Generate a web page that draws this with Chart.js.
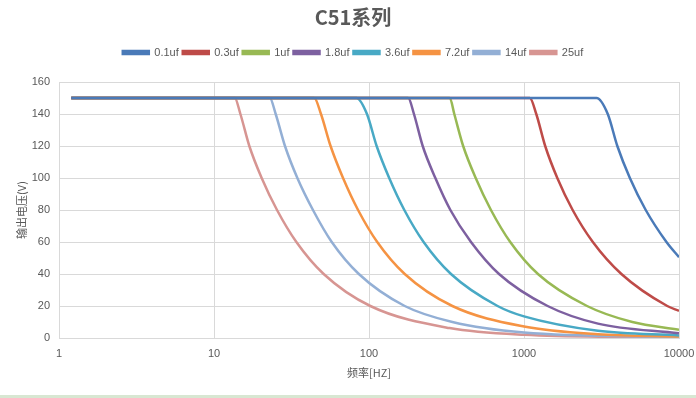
<!DOCTYPE html>
<html>
<head>
<meta charset="utf-8">
<script src="https://cdn.jsdelivr.net/npm/chart.js@4/dist/chart.umd.min.js"></script>
<style>
  html, body { margin: 0; padding: 0; background: #fff; }
  #wrap { width: 696px; height: 395px; border-bottom: 3px solid #d8e7d2; }
</style>
</head>
<body>
<div id="wrap"><canvas id="chart1" width="696" height="395"></canvas></div>
<script>
// 曲线名称 (电容)
const seriesNames = ['0.1uf', '0.3uf', '1uf', '1.8uf', '3.6uf', '7.2uf', '14uf', '25uf'];
const seriesColors = ['#4a7ab8', '#be4b48', '#98b954', '#7d60a0', '#48a9c5', '#f59343', '#93afd5', '#d79592'];

// 频率 (Hz) / 输出电压 (V)
const freq01 = [1.2, 2940, 3470, 4000, 4820, 6100, 8300, 10000];
const volt01 = [150, 150, 140, 120, 100, 80, 60, 50.5];

const freq03 = [1.2, 1090, 1200, 1370, 1640, 2060, 2780, 4250, 8400, 10000];
const volt03 = [150, 150, 140, 120, 100, 80, 60, 40, 20, 17];

const freq1 = [1.2, 332, 355, 405, 488, 612, 815, 1230, 2550, 5000, 10000];
const volt1 = [150, 150, 140, 120, 100, 80, 60, 40, 20, 10, 5.2];

const freq18 = [1.2, 179, 195, 222, 268, 335, 455, 690, 1420, 3000, 10000];
const volt18 = [150, 150, 140, 120, 100, 80, 60, 40, 20, 9, 2.9];

const freq36 = [1.2, 83, 97, 112, 135, 169, 225, 338, 675, 1000, 3000, 10000];
const volt36 = [150, 150, 140, 120, 100, 80, 60, 40, 20, 13.5, 4.5, 1.6];

const freq72 = [1.2, 44.3, 49, 56.5, 68, 85, 113, 170, 345, 1000, 3000, 10000];
const volt72 = [150, 150, 140, 120, 100, 80, 60, 40, 20, 7.2, 2.4, 1];

const freq14 = [1.2, 22.9, 25, 28.7, 34.5, 43.5, 57.5, 86, 170, 345, 1000, 10000];
const volt14 = [150, 150, 140, 120, 100, 80, 60, 40, 20, 10, 3.4, 0.5];

const freq25 = [1.2, 13.6, 14.8, 16.9, 20.3, 25.5, 34, 51, 102, 331, 1000, 10000];
const volt25 = [150, 150, 140, 120, 100, 80, 60, 40, 20, 6.2, 2, 0.3];

const allFreq = [freq01, freq03, freq1, freq18, freq36, freq72, freq14, freq25];
const allVolt = [volt01, volt03, volt1, volt18, volt36, volt72, volt14, volt25];

// 坐标轴刻度
const xTicks = [1, 10, 100, 1000, 10000];
const yMin = 0, yMax = 160, yStep = 20;

const grey = '#595959';
const gridColor = '#d9d9d9';
const fontFam = "'Liberation Sans', 'Noto Sans CJK SC', sans-serif";

const datasets = seriesNames.map((name, i) => ({
    label: name,
    data: allFreq[i].map((f, j) => ({ x: f, y: allVolt[i][j] })),
    borderColor: seriesColors[i],
    backgroundColor: seriesColors[i],
    borderWidth: 2.5,
    pointRadius: 0,
    showLine: true,
    cubicInterpolationMode: 'monotone'
}));

// 图例下方留白, 标题和图例稍微右移
const legendGap = {
    id: 'legendGap',
    beforeInit(chart) {
        const origFit = chart.legend.fit;
        chart.legend.fit = function () {
            origFit.bind(chart.legend)();
            this.height += 14;
        };
    },
    afterLayout(chart) {
        [chart.titleBlock, chart.legend].forEach(b => {
            if (b) { b.left += 5; b.right += 5; }
        });
    }
};

new Chart(document.getElementById('chart1'), {
    type: 'scatter',
    data: { datasets: datasets },
    plugins: [legendGap],
    options: {
        responsive: false,
        animation: false,
        layout: { padding: 0 },
        plugins: {
            tooltip: { enabled: false },
            title: {
                display: true,
                text: 'C51系列',
                color: grey,
                font: { size: 20, weight: 'bold', family: "'Noto Sans CJK SC', sans-serif" },
                padding: { top: 5, bottom: 14 }
            },
            legend: {
                position: 'top',
                labels: {
                    color: grey,
                    boxWidth: 26,
                    boxHeight: 3,
                    padding: 4,
                    font: { size: 11, family: fontFam }
                }
            }
        },
        scales: {
            x: {
                type: 'logarithmic',
                min: 1,
                max: 10000,
                afterBuildTicks: (axis) => { axis.ticks = xTicks.map(v => ({ value: v })); },
                afterFit: (axis) => {
                    axis.height = 57;
                    axis.paddingLeft = 0;
                    axis.paddingRight = 17;
                },
                grid: { color: gridColor, drawTicks: false },
                border: { color: gridColor },
                ticks: {
                    color: grey,
                    padding: 9,
                    maxRotation: 0,
                    font: { size: 11, family: fontFam },
                    callback: (v) => String(v)
                },
                title: {
                    display: true,
                    text: '频率[HZ]',
                    color: grey,
                    font: { size: 11, family: "'Noto Sans CJK SC', sans-serif" },
                    padding: { top: 0, bottom: 16 }
                }
            },
            y: {
                min: yMin,
                max: yMax,
                afterFit: (axis) => { axis.width = 59; },
                grid: { color: gridColor, drawTicks: false },
                border: { color: gridColor },
                ticks: {
                    stepSize: yStep,
                    color: grey,
                    padding: 9,
                    font: { size: 11, family: fontFam }
                },
                title: {
                    display: true,
                    text: '输出电压(V)',
                    color: grey,
                    font: { size: 11, family: "'Noto Sans CJK SC', sans-serif" },
                    padding: { top: 15, bottom: 0 }
                }
            }
        }
    }
});
</script>
</body>
</html>
